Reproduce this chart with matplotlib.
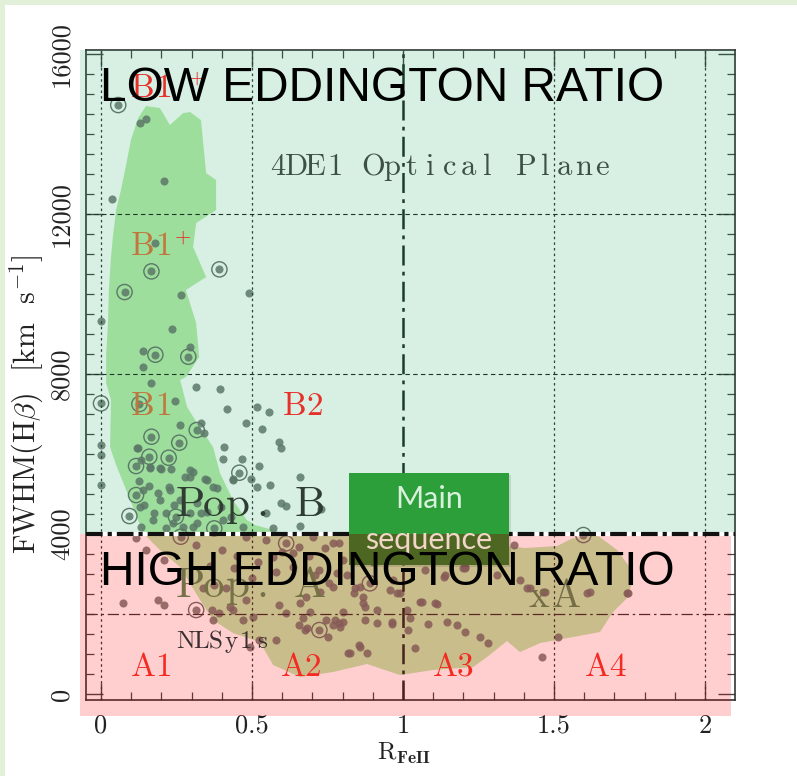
import matplotlib
matplotlib.use("Agg")
import matplotlib.pyplot as plt
from matplotlib.patches import Rectangle
from matplotlib.ticker import MultipleLocator
from matplotlib.transforms import offset_copy

plt.rcParams['mathtext.fontset'] = 'cm'

# quasar sample: R_FeII vs FWHM(Hb) [km/s]
pts_x = [0.13, 0.149, 0.21, 0.035, 0.18, 0.49, 0.264, 0.0, 0.235, 0.295, 0.14, 0.14, 0.167, 0.395,
         0.246, 0.315, 0.418, 0.516, 0.557, 0.48, 0.533, 0.331, 0.342, 0.263, 0.0, 0.0, 0.588, 0.595,
         0.407, 0.403, 0.467, 0.522, 0.123, 0.131, 0.198, 0.233, 0.163, 0.303, 0.277, 0.345, 0.436,
         0.496, 0.516, 0.56, 0.659, 0.127, 0.16, 0.188, 0.226, 0.37, 0.243, 0.143, 0.177, 0.215,
         0.331, 0.397, 0.596, 0.613, 0.728, 0.546, 0.303, 0.43, 0.568, 0.659, 0.215, 0.132, 0.469,
         0.0, 0.295, 0.35, 0.383, 0.438, 0.228, 0.129, 0.173, 0.295, 0.317, 0.24, 0.273, 0.405,
         0.195, 0.262, 0.317, 0.35, 0.118, 0.195, 0.295, 0.162, 0.14,
         0.072, 0.188, 0.21, 0.116, 0.315, 0.149, 0.21, 0.337, 0.375, 0.414, 0.436, 0.469, 0.502,
         0.48, 0.546, 0.568, 0.657, 0.635, 0.679, 0.59, 0.613, 0.657, 0.745, 0.789, 0.579, 0.524,
         0.789, 0.8, 0.723, 0.756, 0.48, 0.392, 0.366, 0.427, 0.372, 0.493, 0.675, 0.775, 0.858,
         0.824, 0.88, 0.874, 0.913, 0.769, 0.863, 0.946, 0.968, 0.979, 0.703, 0.58, 0.637,
         1.366, 1.205, 1.139, 1.073, 1.31, 1.387, 1.41, 1.47, 1.608, 1.741, 0.814, 0.841, 0.868,
         0.874, 0.957, 0.99, 1.062, 1.112, 1.012, 0.802, 0.913, 0.962, 1.018, 1.084, 1.144, 1.178,
         1.205, 1.255, 1.282, 1.514, 1.04, 0.791, 1.459, 1.619, 1.023, 1.134, 1.205,
         0.659, 0.692, 0.768, 0.858, 0.868, 0.802, 0.769, 0.681, 0.753, 0.853, 0.819, 1.106,
         1.056, 1.42, 1.465, 1.746, 1.2, 0.709, 0.78, 0.836, 0.725, 0.67, 0.962,
         0.40, 0.45, 0.52, 0.60, 0.69, 0.74, 0.90, 0.95, 0.36, 0.44, 0.50]
pts_y = [14275, 14375, 12833, 12366, 11283, 10025, 9975, 9325, 9125, 8683, 8583, 8183, 7767, 7617,
         7333, 7683, 7133, 7183, 7050, 6767, 6633, 6767, 6533, 6717, 6217, 5975, 6300, 6142,
         6167, 5867, 5883, 5700, 6142, 5850, 5617, 5617, 5667, 5558, 5417, 5367, 5367,
         5367, 5167, 5217, 5433, 5333, 5200, 5017, 5183, 5183, 4717, 4725, 4517, 4517,
         4517, 4683, 4767, 4700, 4617, 4517, 4183, 4433, 4142, 4200, 4142, 4183, 4183,
         5225, 5433, 5350, 5142, 5350, 5100, 4683, 4350, 4517, 4267, 4267, 4183, 4350,
         4850, 4850, 4767, 4558, 6142, 5642, 5600, 5642, 5100,
         2283, 2350, 2225, 3892, 3725, 3600, 3350, 2642, 2725, 2642, 2100, 1850, 1933,
         3933, 3850, 3433, 3683, 3183, 2433, 2225, 2017, 1725, 1850, 1767, 1350, 1350,
         3767, 3350, 3100, 2767, 2350, 2017, 2100, 2183, 1850, 1183, 1600, 1850, 1183,
         1017, 1017, 1850, 2100, 3767, 3933, 3433, 2850, 2517, 3933, 3058, 3517,
         3725, 3183, 2975, 3100, 2975, 2850, 2642, 2558, 2517, 2517, 2975, 2642, 2433,
         2183, 2600, 2517, 2308, 2250, 2100, 2058, 1767, 1750, 1600, 1750, 1808, 1725,
         1558, 1417, 1267, 1433, 1142, 1683, 933, 2558, 1892, 2933, 3142,
         2275, 2058, 2675, 2675, 2267, 1808, 1725, 1642, 1433, 1225, 1017, 2267,
         2308, 2642, 2558, 2517, 3142, 2975, 3017, 2517, 2558, 1892, 1808,
         3600, 3450, 3300, 3550, 3450, 3650, 3300, 3700, 3200, 3150, 2900]

# objects with a second marker ring
ring_x = [0.057, 0.167, 0.392, 0.078, 0.289, 0.18, 0.0, 0.127, 0.167, 0.259, 0.458, 0.16, 0.224,
          0.116, 0.116, 0.094, 0.248, 0.375, 0.315, 0.264, 0.613, 0.723, 1.597, 0.89, 0.317]
ring_y = [14725, 10567, 10617, 10050, 8433, 8483, 7267, 7250, 6433, 6283, 5533, 5933, 5908,
          5700, 4975, 4450, 4433, 4142, 2100, 3933, 3767, 1600, 3975, 2767, 6600]

# outer density contour of the population
cont_x = [0.149, 0.123, 0.099, 0.083, 0.066, 0.050, 0.040, 0.033, 0.026, 0.023, 0.017, 0.017,
          0.033, 0.030, 0.050, 0.070, 0.106, 0.139, 0.195, 0.262, 0.328, 0.371, 0.437, 0.526,
          0.570, 0.659, 0.768, 0.881, 0.990, 1.099, 1.232, 1.278, 1.344, 1.387, 1.454, 1.563,
          1.652, 1.695, 1.742, 1.762, 1.752, 1.709, 1.642, 1.563, 1.510, 1.404, 1.321, 1.189,
          1.089, 0.990, 0.758, 0.593, 0.510, 0.483, 0.437, 0.394, 0.371, 0.318, 0.285, 0.262,
          0.281, 0.325, 0.315, 0.281, 0.348, 0.305, 0.315, 0.381, 0.381, 0.348, 0.331, 0.295,
          0.272, 0.228, 0.195]
cont_y = [14700, 14400, 13850, 13225, 12600, 12100, 11475, 10925, 10100, 9275, 8475, 7775,
          7350, 6175, 5725, 5350, 4675, 4025, 3600, 3175, 2350, 1850, 1525, 1300,
          725, 425, 550, 750, 475, 600, 675, 925, 1325, 1050, 1275, 1425,
          1550, 2050, 2400, 2850, 3150, 3600, 3975, 3900, 3700, 3650, 3725, 3600,
          3725, 3925, 4000, 4050, 4225, 4350, 4850, 5525, 6175, 6775, 7175, 7850,
          7925, 8425, 9275, 10100, 10425, 11175, 11775, 12100, 12850, 13025, 14350, 14550,
          14525, 14225, 14650]

fig = plt.figure(figsize=(7.97, 7.76), dpi=100)
fig.patches.append(Rectangle((0, 1 - 5 / 776), 1, 5 / 776, transform=fig.transFigure,
                             facecolor='#e2efd9', edgecolor='none'))
fig.patches.append(Rectangle((0, 0), 5 / 797, 1, transform=fig.transFigure,
                             facecolor='#e2efd9', edgecolor='none'))

ax = fig.add_axes([0.1079, 0.0979, 0.8143, 0.8376])
ax.set_xlim(-0.0497, 2.099)
ax.set_ylim(-150, 16100)


def spaced(x, y, s, step, **kw):
    # loose, evenly spaced lettering; step is the advance per character in pixels
    for i, ch in enumerate(s):
        if ch == ' ':
            continue
        tr = offset_copy(ax.transData, fig=fig, x=(i + 0.5) * step, y=0, units='dots')
        ax.text(x, y, ch, transform=tr, ha='center', va='baseline', family='cmr10', **kw)


ax.fill(cont_x, cont_y, color='#bceaac', lw=0, zorder=1)

ax.scatter(pts_x, pts_y, s=34, color='#6c716c', alpha=0.85, lw=0, zorder=2)
ax.scatter(ring_x, ring_y, s=34, color='#6c716c', alpha=0.85, lw=0, zorder=2)
ax.scatter(ring_x, ring_y, s=120, facecolor='none', edgecolor='#6c716c', lw=1.0, zorder=2)

# reference lines
for xv in [0, 0.5, 1.5, 2]:
    ax.axvline(xv, color='#333333', lw=0.9, ls=(0, (2, 2.5)), zorder=2.5)
for yv in [8000, 12000]:
    ax.axhline(yv, color='#222222', lw=0.8, ls=(0, (4, 3)), zorder=2.5)
ax.axhline(2000, color='#3a3030', lw=0.9, ls=(0, (9, 3, 2, 3)), zorder=2.5)
ax.axvline(1.0, color='#1e2a22', lw=1.8, ls=(0, (8, 2.5, 1.5, 2.5)), zorder=2.6)

# Eddington-ratio zones
ax.add_patch(Rectangle((-0.0695, 4000), 2.1685, 12100, facecolor='#00a050', alpha=0.155,
                       lw=0, clip_on=False, zorder=3))
ax.add_patch(Rectangle((-0.0695, -550), 2.1555, 4550, facecolor='#ff0000', alpha=0.19,
                       lw=0, clip_on=False, zorder=3))
ax.axhline(4000, color='white', lw=3, zorder=4)
ax.axhline(4000, color='#111111', lw=3, ls=(0, (4, 1.2, 1, 1.2)), zorder=4.1)

red = '#e8302a'
spaced(0.553, 12975, '4DE1 Optical Plane', 19.1, fontsize=22, color='#3d5044', zorder=5)
spaced(0.255, 4450, 'Pop. B', 24, fontsize=31, color='#2f3d33', zorder=5)
spaced(0.255, 2425, 'Pop. A', 24, fontsize=31, color='#777148', zorder=5)
spaced(1.405, 2175, 'xA', 27, fontsize=28, color='#746d46', zorder=5)
spaced(0.255, 1150, 'NLSy1s', 15.2, fontsize=18, color='#3a2e30', zorder=5)
spaced(0.106, 14925, 'B1', 20, fontsize=24, color=red, zorder=5)
ax.text(0.318, 15375, '+', family='cmr10', fontsize=15, color=red, ha='center', va='center',
        zorder=5)
spaced(0.106, 10975, 'B1', 20, fontsize=24, color='#c0773c', zorder=5)
ax.text(0.272, 11400, '+', family='cmr10', fontsize=15, color=red, ha='center', va='center',
        zorder=5)
spaced(0.106, 6975, 'B1', 20, fontsize=24, color='#c0773c', zorder=5)
spaced(0.609, 6975, 'B2', 20, fontsize=24, color=red, zorder=5)
for lab, xl in zip(['A1', 'A2', 'A3', 'A4'], [0.106, 0.603, 1.106, 1.609]):
    spaced(xl, 450, lab, 20, fontsize=24, color='#f52a22', zorder=5)

# "Main sequence" badge
ax.add_patch(Rectangle((0.826, 3180), 0.532, 2290, facecolor='#000000', alpha=0.10, lw=0,
                       zorder=6))
ax.add_patch(Rectangle((0.821, 4000), 0.53, 1525, facecolor='#2c9e3a', lw=0, zorder=6.1))
ax.add_patch(Rectangle((0.821, 3225), 0.53, 775, facecolor='#4d6621', lw=0, zorder=6.1))
ax.text(1.086, 4875, 'Main', family='Lato', fontsize=22, color='#d8f0dc',
        ha='center', va='center', zorder=6.2)
ax.text(1.086, 3850, 'sequence', family='Lato', fontsize=22, color='#f2d6c8',
        ha='center', va='center', zorder=6.2)

ax.text(-0.003, 15150, 'LOW EDDINGTON RATIO', family='Liberation Sans', fontsize=34.5,
        color='black', va='center', zorder=7)
ax.text(-0.003, 3050, 'HIGH EDDINGTON RATIO', family='Liberation Sans', fontsize=34.5,
        color='black', va='center', zorder=7)

# axes, ticks, labels
for sp in ax.spines.values():
    sp.set_color('#333333')
    sp.set_linewidth(1.2)
ax.xaxis.set_major_locator(MultipleLocator(0.5))
ax.xaxis.set_minor_locator(MultipleLocator(0.1))
ax.yaxis.set_major_locator(MultipleLocator(4000))
ax.yaxis.set_minor_locator(MultipleLocator(500))
ax.tick_params(which='both', direction='in', top=True, right=True, color='#444444')
ax.tick_params(which='major', length=12, width=1.0)
ax.tick_params(which='minor', length=6, width=0.9)
ax.tick_params(axis='x', pad=10)
ax.tick_params(axis='y', pad=9)
ax.set_xticks([0, 0.5, 1, 1.5, 2])
ax.set_xticklabels(['0', '0.5', '1', '1.5', '2'], family='cmr10', fontsize=19, color='#222222')
ax.set_yticks([0, 4000, 8000, 12000, 16000])
ax.set_yticklabels(['0', '4000', '8000', '12000', '16000'], family='cmr10', fontsize=19,
                   color='#222222', rotation=90, va='center')

ax.set_xlabel(r'R$_{\mathbf{FeII}}$', family='cmr10', fontsize=18, color='#222222')
ax.xaxis.set_label_coords(0.49, -0.062)
ax.set_ylabel(r'FWHM(H$\beta$)  [km  s$^{-1}$]', family='cmr10', fontsize=21.5,
              color='#222222')
ax.yaxis.set_label_coords(-0.062, 0.455)

fig.savefig('out.png', dpi=100)
